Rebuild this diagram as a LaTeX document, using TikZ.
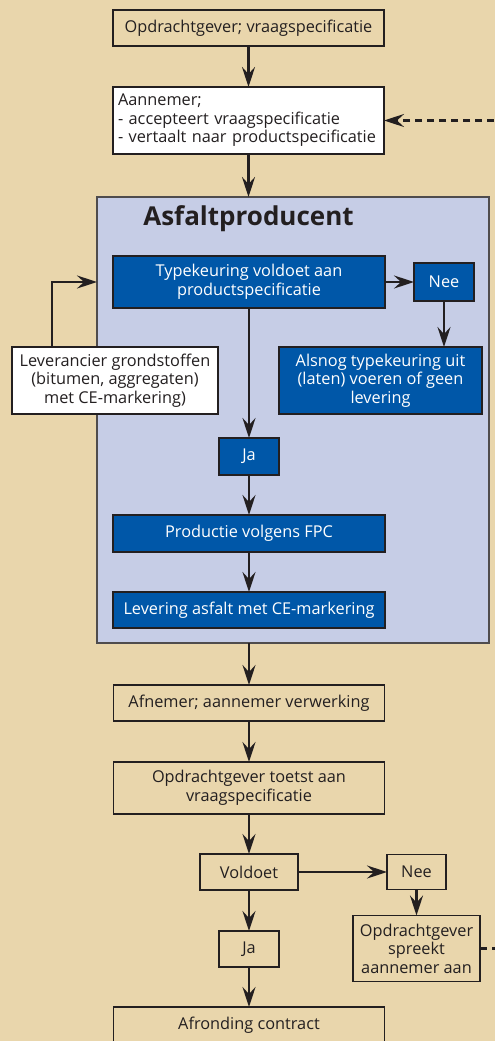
\documentclass[tikz,border=0pt]{standalone}
\usepackage{fontspec}
\setmainfont{Open Sans}
\usetikzlibrary{positioning, arrows.meta}

\definecolor{zand}{RGB}{233,214,172}
\definecolor{lila}{RGB}{198,205,230}
\definecolor{donkerblauw}{RGB}{0,87,168}
\definecolor{lijn}{RGB}{35,31,32}

\begin{document}
\begin{tikzpicture}[
    x=1pt, y=-1pt,
    font=\fontsize{16.3}{18.5}\selectfont,
    % Styles
    stap/.style={
        draw=lijn,
        line width=1.3pt,
        rectangle,
        inner sep=4pt,
        outer sep=0pt,
        minimum height=36pt,
        align=center,
        fill=zand,
        text=lijn
    },
    breed/.style={stap, minimum width=271pt},
    wit/.style={stap, fill=white},
    blauw/.style={stap, fill=donkerblauw, text=white},
    groep/.style={
        draw=lijn!80,
        line width=1.3pt,
        fill=lila,
        minimum width=392pt,
        minimum height=446pt,
        outer sep=0pt
    },
    arrow/.style={-{Stealth[length=20pt, width=13pt, inset=7pt]}, line width=2.6pt, lijn},
    stippel/.style={arrow, dash pattern=on 7pt off 5pt}
]
    \useasboundingbox (0,0) rectangle (495,1041);
    \fill[zand] (0,0) rectangle (495,1041);

    % --- BOVENSTE DEEL ---
    \node[breed] (opdr) at (248.5,28) {Opdrachtgever; vraagspecificatie};
    \node[breed, wit, align=left, minimum height=67pt, text width=261pt, below=41pt of opdr] (aann)
        {Aannemer;\\- accepteert vraagspecificatie\\- vertaalt naar productspecificatie};

    % --- ASFALTPRODUCENT ---
    \node[groep, anchor=north west] (groep) at (97,197) {};
    \node[font=\fontsize{26}{28}\selectfont\bfseries, text=lijn] (titel) at (248.5,219) {Asfaltproducent};

    \node[blauw, minimum width=272pt, minimum height=52pt] (typek) at (249,282)
        {Typekeuring voldoet aan\\productspecificatie};
    \node[blauw, minimum width=60pt, minimum height=38pt, right=29pt of typek] (nee1) {Nee};
    \node[blauw, minimum width=203pt, minimum height=67pt] (alsnog) at (380.5,380.5)
        {Alsnog typekeuring uit\\(laten) voeren of geen\\levering};
    \node[wit, minimum width=206pt, minimum height=67pt] (lev) at (115,380.5)
        {Leverancier grondstoffen\\(bitumen, aggregaten)\\met CE-markering)};

    \node[blauw, minimum width=60pt, minimum height=37pt, below=130pt of typek] (ja1) {Ja};
    \node[blauw, minimum width=272pt, minimum height=37pt, below=40pt of ja1] (prod) {Productie volgens FPC};
    \node[blauw, minimum width=272pt, minimum height=36pt, below=40pt of prod] (leva) {Levering asfalt met CE-markering};

    % --- ONDERSTE DEEL ---
    \node[breed, below=57pt of leva] (afn) {Afnemer; aannemer verwerking};
    \node[breed, minimum height=52pt, below=41pt of afn] (toets) {Opdrachtgever toetst aan\\vraagspecificatie};
    \node[stap, minimum width=98pt, below=40pt of toets] (voldoet) {Voldoet};
    \node[stap, minimum width=59pt, minimum height=35pt, right=89pt of voldoet] (nee2) {Nee};
    \node[stap, minimum width=127pt, minimum height=66pt, inner sep=2pt, below=26pt of nee2] (spreekt)
        {Opdrachtgever\\spreekt\\aannemer aan};
    \node[stap, minimum width=60pt, below=41pt of voldoet] (ja2) {Ja};
    \node[breed, below=40pt of ja2] (afr) {Afronding contract};

    % --- ARROWS ---
    \draw[arrow] (opdr) -- (aann);
    \draw[arrow] (aann) -- (aann |- groep.north);
    \draw[arrow] (typek) -- (nee1);
    \draw[arrow] (nee1) -- (nee1 |- alsnog.north);
    \draw[arrow] (typek) -- (ja1);
    \draw[arrow] (ja1) -- (prod);
    \draw[arrow] (prod) -- (leva);
    \draw[arrow] ([xshift=-63pt]lev.north) |- (groep.west |- typek);
    \draw[arrow] (afn |- groep.south) -- (afn);
    \draw[arrow] (afn) -- (toets);
    \draw[arrow] (toets) -- (voldoet);
    \draw[arrow] (voldoet) -- (nee2);
    \draw[arrow] (nee2) -- (nee2 |- spreekt.north);
    \draw[arrow] (voldoet) -- (ja2);
    \draw[arrow] (ja2) -- (afr);

    % Terugkoppeling naar aannemer
    \draw[stippel] (spreekt.east) -- ++(25,0) |- (aann.east);

\end{tikzpicture}
\end{document}
